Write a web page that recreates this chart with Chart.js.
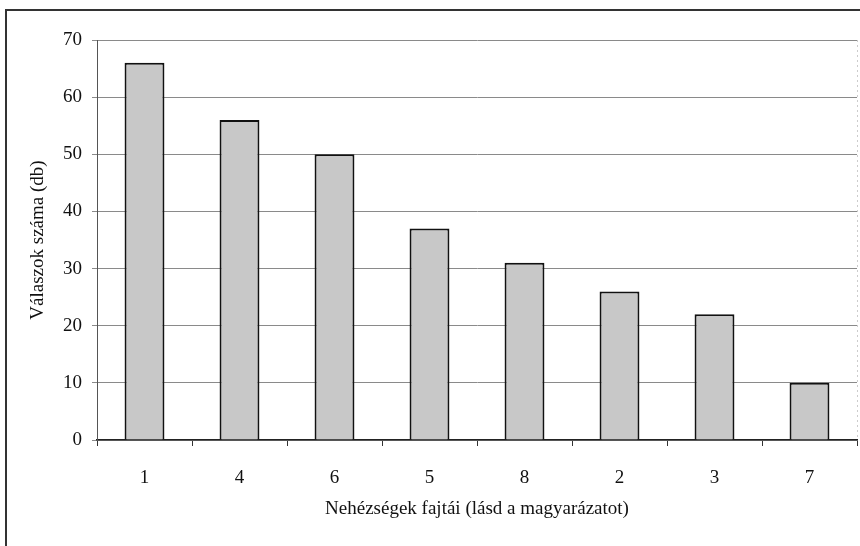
<!DOCTYPE html>
<html lang="hu">
<head>
<meta charset="UTF-8">
<title>Nehézségek fajtái</title>
<script src="https://cdn.jsdelivr.net/npm/chart.js"></script>
<style>
  html, body { margin: 0; padding: 0; background: #fff; }
  #wrap { width: 860px; height: 546px; position: relative; }
</style>
</head>
<body>
<div id="wrap"><canvas id="chart" width="860" height="546"></canvas></div>
<script>
    // values
    const categories = ['1', '4', '6', '5', '8', '2', '3', '7'];
    const answers = [66, 56, 50, 37, 31, 26, 22, 10];
    const yTitle = 'Válaszok száma (db)';
    const xTitle = 'Nehézségek fajtái (lásd a magyarázatot)';

    const serif = { family: '"Liberation Serif", "Times New Roman", serif', size: 19 };

    // thin frame that the scan shows on the left and top
    const framePlugin = {
        id: 'frame',
        afterDraw(chart) {
            const ctx = chart.ctx;
            ctx.save();
            ctx.strokeStyle = '#333';
            ctx.lineWidth = 2;
            ctx.beginPath();
            ctx.moveTo(6, 546);
            ctx.lineTo(6, 10);
            ctx.lineTo(860, 10);
            ctx.stroke();
            // faint right edge of the plot
            const a = chart.chartArea;
            ctx.strokeStyle = '#ccc';
            ctx.lineWidth = 1;
            ctx.setLineDash([2, 3]);
            ctx.beginPath();
            ctx.moveTo(a.right + 0.5, a.top);
            ctx.lineTo(a.right + 0.5, a.bottom);
            ctx.stroke();
            ctx.restore();
        }
    };

    new Chart(document.getElementById('chart'), {
        type: 'bar',
        data: {
            labels: categories,
            datasets: [{
                data: answers,
                backgroundColor: '#c8c8c8',
                borderColor: '#111',
                borderWidth: 2,
                borderSkipped: 'start',
                categoryPercentage: 1,
                barPercentage: 0.42
            }]
        },
        options: {
            responsive: false,
            animation: false,
            devicePixelRatio: 1,
            layout: { padding: { top: 40, right: 3, bottom: 0, left: 0 } },
            plugins: {
                legend: { display: false },
                tooltip: { enabled: false }
            },
            scales: {
                x: {
                    afterFit(scale) { scale.height = 106; },
                    grid: {
                        offset: true,
                        drawOnChartArea: false,
                        drawTicks: true,
                        tickLength: 6,
                        color: '#333'
                    },
                    border: { color: '#222', width: 1.5 },
                    ticks: { font: serif, color: '#111', padding: 21 },
                    title: {
                        display: true,
                        text: xTitle,
                        font: serif,
                        color: '#111',
                        padding: { top: 0, bottom: 26 }
                    }
                },
                y: {
                    min: 0,
                    max: 70,
                    afterFit(scale) { scale.width = 97; },
                    grid: {
                        color: '#8a8a8a',
                        tickLength: 5,
                        lineWidth: 1
                    },
                    border: { color: '#555', width: 1 },
                    ticks: { stepSize: 10, font: serif, color: '#111', padding: 10 },
                    title: {
                        display: true,
                        text: yTitle,
                        font: serif,
                        color: '#111',
                        padding: { top: 27, bottom: 0 }
                    }
                }
            }
        },
        plugins: [framePlugin]
    });
</script>
</body>
</html>
